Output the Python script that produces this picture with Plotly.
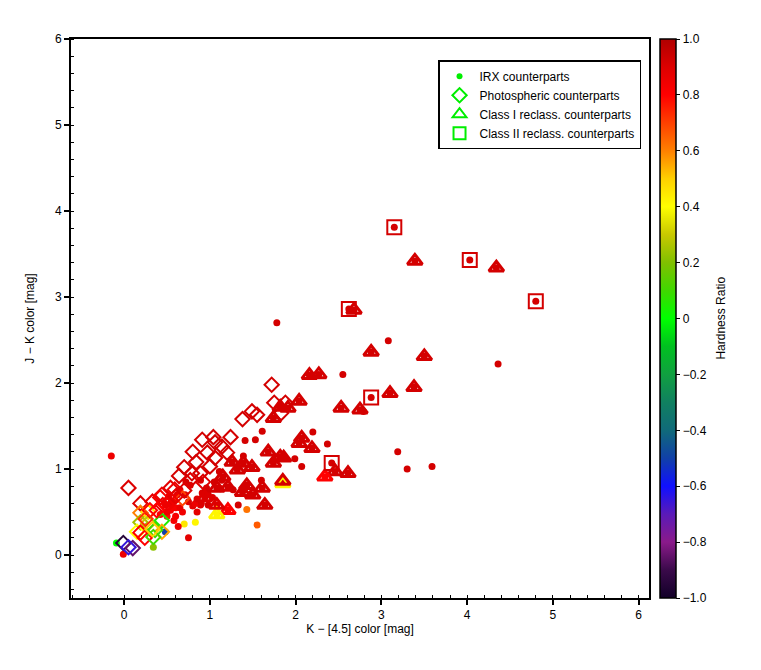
import plotly.graph_objects as go

# ---- data ----
# IRX counterparts that are plain dots (x = K-[4.5], y = J-K, hr = hardness ratio)
dot_x = [-0.15, 1.78, 3.08, 2.55, 4.36, 2.79, 2.20, 2.37, 1.99, 2.07, 3.19, 3.30, 3.59,
         1.61, 1.53, 1.41, 1.39, 1.11, 1.60, 1.12, 1.03, 0.98, 0.89, 0.80, 1.43, 1.55,
         0.83, 0.70, 0.63, 0.75, 0.34, -0.09, -0.01, 0.48, 0.91, 0.96, 0.89, 1.27, 0.59,
         0.71, 0.54, 0.42, 0.77, 0.65, 0.48, 1.14, 0.83, 0.90,
         1.33, 0.98, 0.60, 0.50, 0.55, 0.68,
         0.50, 0.60, 0.55, 0.65, 0.75, 0.85, 0.62, 0.72, 0.52, 0.85,
         0.95, 1.05, 0.58]
dot_y = [1.15, 2.70, 2.49, 2.10, 2.22, 1.67, 1.43, 1.29, 1.12, 1.03, 1.20, 1.00, 1.03,
         1.44, 1.34, 1.33, 1.15, 0.97, 0.87, 0.77, 0.67, 0.58, 0.58, 0.57, 0.53, 0.35,
         0.38, 0.36, 0.33, 0.20, 0.09, 0.14, 0.01, 0.27, 0.72, 0.78, 0.87, 0.76, 0.64,
         0.70, 0.52, 0.47, 0.81, 0.76, 0.58, 0.87, 0.60, 0.60,
         0.58, 0.70, 0.55, 0.45, 0.62, 0.50,
         0.50, 0.45, 0.60, 0.55, 0.62, 0.65, 0.70, 0.85, 0.68, 0.50,
         0.75, 0.85, 0.40]
dot_hr = [0.85, 0.92, 0.92, 0.92, 0.92, 0.92, 0.92, 0.92, 0.92, 0.92, 0.92, 0.92, 0.92,
          0.92, 0.92, 0.92, 0.92, 0.92, 0.92, 0.92, 0.9, 0.92, 0.9, 0.88, 0.62, 0.66,
          0.42, 0.45, 0.85, 0.88, 0.22, 0.0, 0.85, -0.5, 0.9, 0.92, 0.9, 0.92, 0.85,
          0.9, 0.82, 0.8, 0.9, 0.88, 0.85, 0.92, 0.85, 0.9,
          0.92, 0.9, 0.82, 0.78, 0.86, 0.84,
          0.85, 0.82, 0.88, 0.86, 0.9, 0.9, 0.88, 0.92, 0.86, 0.88,
          0.92, 0.92, 0.82]

# Photospheric counterparts (open diamonds)
ph_x = [1.72, 1.75, 1.88, 1.83, 1.38, 1.49, 1.55, 1.04, 0.91, 1.24, 1.14, 1.06, 0.80,
        0.97, 1.06, 1.20, 0.70, 1.00, 0.89, 0.64, 0.05, 0.19, 0.33, 0.44, 0.54, 0.79,
        0.92, 0.68, 0.45, 0.19, 0.28, 0.19, 0.28, 0.44, 0.36, 0.15, 0.19, 0.44, -0.01,
        0.10, 0.05, 0.24, 0.34, 0.59, 0.42, 0.77, 0.30, 0.54, 0.84,
        0.50, 0.60, 0.38, 0.70, 0.25, 0.33]
ph_y = [1.98, 1.77, 1.77, 1.65, 1.58, 1.67, 1.63, 1.37, 1.34, 1.37, 1.26, 1.31, 1.20,
        1.19, 1.13, 1.19, 1.02, 1.03, 0.95, 0.92, 0.78, 0.60, 0.62, 0.70, 0.78, 0.95,
        0.85, 0.66, 0.58, 0.49, 0.50, 0.38, 0.37, 0.40, 0.29, 0.27, 0.26, 0.27, 0.14,
        0.08, 0.09, 0.20, 0.21, 0.76, 0.67, 0.87, 0.52, 0.64, 1.08,
        0.58, 0.68, 0.52, 0.75, 0.42, 0.30]
ph_hr = [0.92, 0.92, 0.92, 0.92, 0.92, 0.92, 0.92, 0.92, 0.92, 0.92, 0.92, 0.92, 0.92,
         0.92, 0.92, 0.92, 0.92, 0.92, 0.92, 0.92, 0.9, 0.9, 0.88, 0.85, 0.88, 0.92,
         0.9, 0.7, 0.85, 0.6, 0.45, 0.25, 0.3, 0.05, 0.1, 0.4, 0.8, 0.55, -0.95,
         -0.85, -0.65, 0.8, 0.1, 0.85, 0.82, 0.9, 0.8, 0.85, 0.92,
         0.84, 0.88, 0.8, 0.9, 0.72, 0.5]

# Class I reclassified counterparts (triangles; also IRX dots)
c1_x = [3.39, 4.34, 2.68, 2.88, 3.50, 2.16, 2.27, 3.38, 2.04, 2.53, 2.75, 3.10, 2.07,
        2.04, 2.19, 1.86, 2.46, 2.61, 2.34, 1.85, 1.85, 1.91, 1.82, 1.74, 1.68, 1.82,
        1.74, 1.26, 1.39, 1.49, 1.32, 1.15, 1.08, 1.21, 1.38, 1.50, 1.61, 1.64, 1.21,
        1.08, 1.43, 1.08, 0.94]
c1_y = [3.42, 3.34, 2.85, 2.36, 2.31, 2.09, 2.10, 1.95, 1.79, 1.71, 1.69, 1.88, 1.36,
        1.30, 1.24, 1.13, 0.97, 0.95, 0.91, 0.83, 0.86, 1.71, 1.72, 1.59, 1.20, 1.14,
        1.07, 1.08, 1.07, 1.02, 0.99, 0.91, 0.78, 0.79, 0.73, 0.70, 0.78, 0.58, 0.52,
        0.47, 0.81, 0.58, 0.67]
c1_hr = [0.92, 0.92, 0.92, 0.92, 0.92, 0.92, 0.92, 0.92, 0.92, 0.92, 0.92, 0.92, 0.92,
         0.92, 0.92, 0.92, 0.92, 0.92, 0.8, 0.42, 0.92, 0.92, 0.92, 0.92, 0.92, 0.92,
         0.92, 0.92, 0.92, 0.92, 0.92, 0.92, 0.92, 0.92, 0.92, 0.92, 0.92, 0.92, 0.8,
         0.42, 0.92, 0.9, 0.9]

# Class II reclassified counterparts (squares; also IRX dots)
c2_x = [3.15, 4.03, 4.80, 2.62, 2.88, 2.42]
c2_y = [3.81, 3.43, 2.95, 2.86, 1.83, 1.07]
c2_hr = [0.92, 0.92, 0.92, 0.92, 0.92, 0.92]

x_ticks = [0, 1, 2, 3, 4, 5, 6]
y_ticks = [0, 1, 2, 3, 4, 5, 6]
cb_vals = [-1.0, -0.8, -0.6, -0.4, -0.2, 0.0, 0.2, 0.4, 0.6, 0.8, 1.0]
cb_text = ["\u22121.0", "\u22120.8", "\u22120.6", "\u22120.4", "\u22120.2", "0",
           "0.2", "0.4", "0.6", "0.8", "1.0"]

# ---- styling ----
cscale = [
    [0.00, "#120028"], [0.05, "#3a0a4a"], [0.10, "#8a1a8a"], [0.15, "#5a1ab8"],
    [0.20, "#1010ff"], [0.25, "#1040a8"], [0.30, "#106a7a"], [0.35, "#108060"],
    [0.40, "#10a040"], [0.45, "#00c020"], [0.50, "#00ff00"], [0.55, "#40d800"],
    [0.60, "#80c000"], [0.65, "#c8c800"], [0.70, "#ffff00"], [0.75, "#ffd000"],
    [0.80, "#ff8000"], [0.85, "#ff4000"], [0.90, "#ff0000"], [0.95, "#dd0000"],
    [1.00, "#b00000"],
]
FONT = "Liberation Sans"

def mk(hr, symbol, size, lw=0, showscale=False):
    m = dict(color=hr, colorscale=cscale, cmin=-1, cmax=1, symbol=symbol, size=size,
             line=dict(width=lw), showscale=showscale)
    if showscale:
        m["colorbar"] = dict(
            x=1.019, xanchor="left", xpad=0, y=0.5, yanchor="middle", ypad=0,
            len=1.0, lenmode="fraction",
            thickness=16, outlinecolor="black", outlinewidth=1.5,
            tickvals=cb_vals, ticktext=cb_text, ticks="outside", ticklen=4,
            tickcolor="black", tickfont=dict(family=FONT, size=12, color="black"),
        )
    return m

fig = go.Figure()

irx_x = dot_x + c1_x + c2_x
irx_y = dot_y + c1_y + c2_y
irx_hr = dot_hr + c1_hr + c2_hr

fig.add_trace(go.Scatter(x=irx_x, y=irx_y, mode="markers", showlegend=False,
                         marker=mk(irx_hr, "circle", 7, 0, showscale=True)))
fig.add_trace(go.Scatter(x=ph_x, y=ph_y, mode="markers", showlegend=False,
                         marker=mk(ph_hr, "diamond-open", 11, 2)))
fig.add_trace(go.Scatter(x=c1_x, y=c1_y, mode="markers", showlegend=False,
                         marker=mk(c1_hr, "triangle-up-open", 13, 3)))
fig.add_trace(go.Scatter(x=c2_x, y=c2_y, mode="markers", showlegend=False,
                         marker=mk(c2_hr, "square-open", 14, 2)))

# legend entries (green symbols)
G = "#00ee00"
for name, sym, size, lw in [("IRX counterparts", "circle", 6, 0),
                            ("Photospheric counterparts", "diamond-open", 11, 2),
                            ("Class I reclass. counterparts", "triangle-up-open", 12, 2),
                            ("Class II reclass. counterparts", "square-open", 12, 2)]:
    fig.add_trace(go.Scatter(x=[None], y=[None], mode="markers", name=name,
                             marker=dict(color=G, symbol=sym, size=size,
                                         line=dict(width=lw, color=G))))

axis_common = dict(
    showgrid=False, zeroline=False, showline=True, linecolor="black", linewidth=2,
    mirror=True, ticks="outside", ticklen=5, tickwidth=1.5, tickcolor="black",
    tickfont=dict(family=FONT, size=12, color="black"),
    minor=dict(dtick=0.2, ticks="inside", ticklen=3, tickwidth=1.2, tickcolor="black"),
)
fig.update_xaxes(range=[-0.62, 6.12], tickvals=x_ticks,
                 title=dict(text="K \u2212 [4.5] color [mag]",
                            font=dict(family=FONT, size=12, color="black"), standoff=2),
                 **axis_common)
fig.update_yaxes(range=[-0.5, 6.0], tickvals=y_ticks,
                 title=dict(text="J \u2212 K color [mag]",
                            font=dict(family=FONT, size=12, color="black"), standoff=18),
                 **axis_common)

fig.add_annotation(text="Hardness Ratio", xref="paper", yref="paper", x=1.123, y=0.5,
                   textangle=-90, showarrow=False, xanchor="center", yanchor="middle",
                   font=dict(family=FONT, size=12, color="black"))

fig.update_layout(
    width=761, height=670,
    margin=dict(l=63, r=120, t=31, b=80, autoexpand=False),
    plot_bgcolor="white", paper_bgcolor="white",
    font=dict(family=FONT, size=12, color="black"),
    legend=dict(x=0.635, y=0.962, xanchor="left", yanchor="top",
                bordercolor="black", borderwidth=1.5, bgcolor="white",
                font=dict(family=FONT, size=12, color="black"),
                itemsizing="trace", tracegroupgap=0),
)

fig.write_html("out.html")
